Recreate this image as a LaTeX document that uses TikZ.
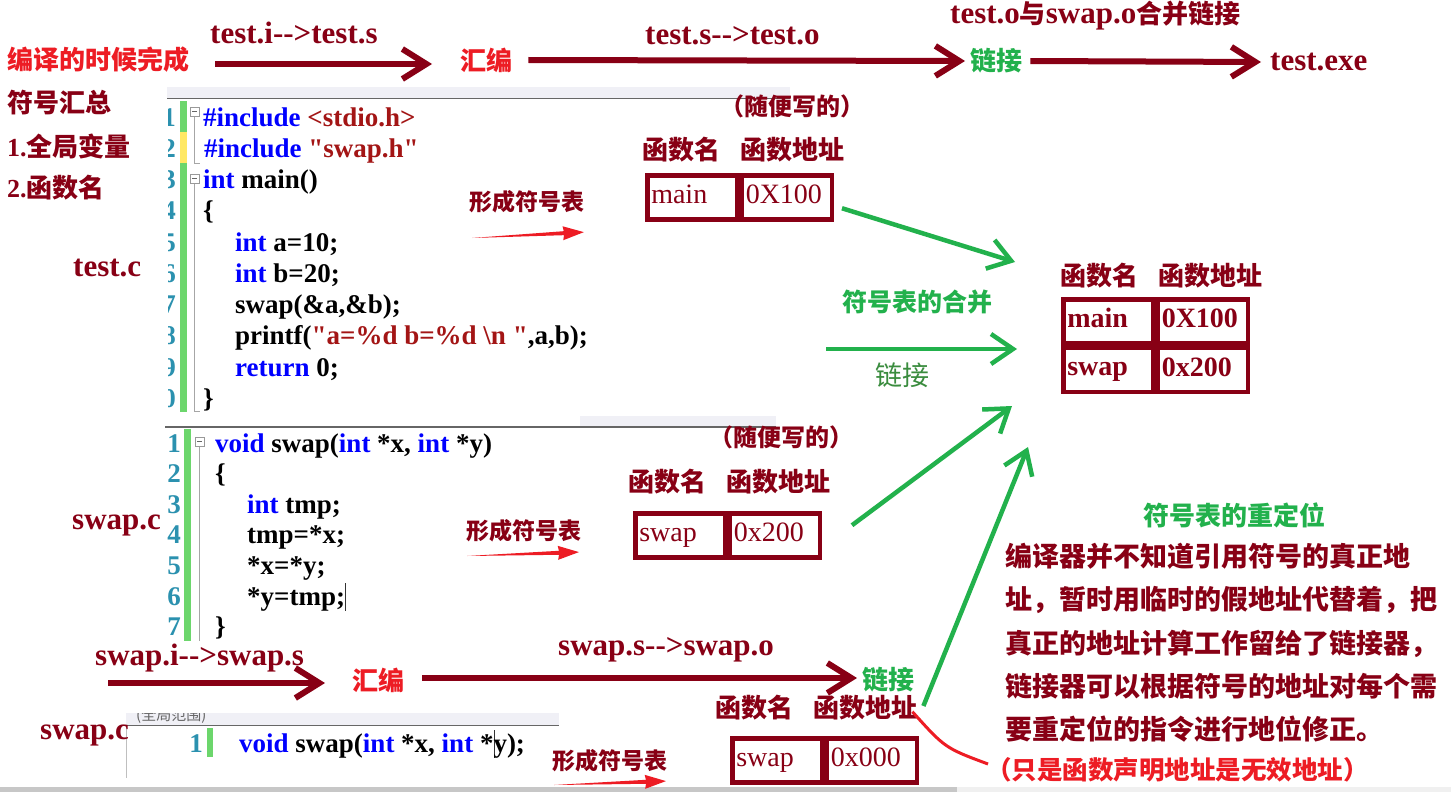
\documentclass[tikz,border=0pt]{standalone}
\usepackage{fontspec}
\setmainfont{Liberation Serif}
\newfontfamily\cjk{Noto Sans CJK SC}
\usepackage{xcolor}
\usepackage{tikz}
\usetikzlibrary{positioning, arrows.meta}

\definecolor{darkred}{RGB}{136,0,21}
\definecolor{markred}{RGB}{237,28,36}
\definecolor{markgreen}{RGB}{34,177,76}
\definecolor{softgreen}{RGB}{58,140,62}
\definecolor{kw}{RGB}{0,0,255}
\definecolor{str}{RGB}{163,21,21}
\definecolor{lineno}{RGB}{43,145,175}
\definecolor{chgbar}{RGB}{108,214,108}
\definecolor{chgyel}{RGB}{255,232,100}
\definecolor{barbg}{RGB}{240,240,246}

\newcommand\edcaret{\rlap{\color{black!80}\rule[-0.22em]{0.9pt}{1.05em}}}

\tikzset{
    formarrow/.pic={\fill[markred] (0,0) -- (92,-2) -- (91,-7) -- (112,0) -- (91,7) -- (92,2) -- cycle;}
}

\begin{document}
\begin{tikzpicture}[
    x=1pt, y=-1pt,
    every node/.style={inner sep=0pt, anchor=west},
    lbl/.style={font=\bfseries\fontsize{31}{31}\selectfont, text=darkred},
    zh/.style={font=\cjk\bfseries\fontsize{26}{26}\selectfont, text=darkred},
    code/.style={font=\bfseries\fontsize{27}{27}\selectfont, anchor=base west},
    lnum/.style={font=\bfseries\fontsize{27}{27}\selectfont, text=lineno, anchor=base east},
    cell/.style={draw=darkred, line width=4.5pt, minimum width=90pt, minimum height=44pt, inner xsep=4pt, text width=82pt, align=left, execute at begin node={\vphantom{Xp}}, font=\fontsize{28}{28}\selectfont, text=darkred},
    fold/.style={draw=black!40, fill=white, line width=0.8pt},
    guide/.style={draw=black!35, line width=0.8pt},
    flow/.style={draw=darkred, line width=6pt, -{Straight Barb[length=24pt, width=30pt]}},
    merge/.style={draw=markgreen, line width=4.5pt, -{Straight Barb[length=22pt, width=30pt]}}
]
\fill[white] (0,0) rectangle (1451,792);
\useasboundingbox (0,0) rectangle (1451,792);

% editor test.c
\fill[barbg] (167,87) rectangle (790,98);
\draw[line width=1.5pt, black!60] (167,98.5) -- (790,98.5);
\fill[chgbar] (180,101) rectangle (187,412);
\fill[chgyel] (180,132) rectangle (187,163);
\draw[fold] (190,107) rectangle (199,116);
\draw[black!60] (192,111.5) -- (197,111.5);
\draw[guide] (194.5,117) -- (194.5,163) -- (200,163);
\draw[fold] (190,174) rectangle (199,183);
\draw[black!60] (192,178.5) -- (197,178.5);
\draw[guide] (194.5,184) -- (194.5,411) -- (200,411);
\begin{scope}
    \clip (168,100) rectangle (177,414);
    \foreach \i in {1,...,10}
        \node[lnum] (na\i) at (176,{126+31.25*(\i-1)}) {\i};
\end{scope}
\node[code] (ca1) at (203,126) {\textcolor{kw}{\#include} \textcolor{str}{<stdio.h>}};
\node[code] (ca2) at (204,157.25) {\textcolor{kw}{\#include} \textcolor{str}{\textquotedbl swap.h\textquotedbl}};
\node[code] (ca3) at (203,188.5) {\textcolor{kw}{int} main()};
\node[code] (ca4) at (203,219.75) {\{};
\node[code] (ca5) at (235,251) {\textcolor{kw}{int} a=10;};
\node[code] (ca6) at (235,282.25) {\textcolor{kw}{int} b=20;};
\node[code] (ca7) at (235,313.5) {swap(\&a,\&b);};
\node[code] (ca8) at (235,344.75) {printf(\textcolor{str}{\textquotedbl a=\%d b=\%d \textbackslash n \textquotedbl},a,b);};
\node[code] (ca9) at (235,376) {\textcolor{kw}{return} 0;};
\node[code] (ca10) at (203,407.25) {\}};

% editor swap.c
\fill[barbg] (580,416) rectangle (776,426);
\draw[line width=1.5pt, black!60] (165,427) -- (776,427);
\fill[chgbar] (184,429) rectangle (191,641);
\draw[fold] (195,437) rectangle (204,446);
\draw[black!60] (197,441.5) -- (202,441.5);
\draw[guide] (199.5,447) -- (199.5,641);
\foreach \i in {1,...,7}
    \node[lnum] (nb\i) at (181,{452+30.6*(\i-1)}) {\i};
\node[code] (cb1) at (215,452) {\textcolor{kw}{void} swap(\textcolor{kw}{int} *x, \textcolor{kw}{int} *y)};
\node[code] (cb2) at (215,482.6) {\{};
\node[code] (cb3) at (247,513.2) {\textcolor{kw}{int} tmp;};
\node[code] (cb4) at (247,543.8) {tmp=*x;};
\node[code] (cb5) at (247,574.4) {*x=*y;};
\node[code] (cb6) at (247,605) {*y=tmp;\edcaret};
\node[code] (cb7) at (215,635.6) {\}};

% editor swap.h
\fill[barbg] (126,713) rectangle (559,725);
\begin{scope}
    \clip (126,713) rectangle (559,725);
    \node[font=\cjk\fontsize{15}{15}\selectfont, text=black!60] (scope) at (136,716) {(全局范围)};
\end{scope}
\draw[line width=1.5pt, black!60] (126,725.5) -- (559,725.5);
\draw[black!25, line width=1pt] (126,726) -- (126,778);
\fill[chgbar] (207,728) rectangle (213,757);
\node[lnum] (nc1) at (203,752) {1};
\node[code] (cc1) at (239,752) {\textcolor{kw}{void} swap(\textcolor{kw}{int} *x, \textcolor{kw}{int} *\edcaret y);};
\fill[black!22] (0,787) rectangle (957,792);
\fill[black!6] (957,787) rectangle (1451,792);

% top: test.c
\node[zh, text=markred] (compile) at (7,60) {编译的时候完成};
\node[lbl] (ti) at (210,33) {test.i{-}{-}>test.s};
\node[zh, text=markred] (asm1) at (460,60) {汇编};
\node[lbl] (ts) at (645,36) {test.s{-}{-}>test.o};
\node[lbl] (to) at (950,16) {test.o{\cjk\fontsize{26}{26}\selectfont 与}swap.o{\cjk\fontsize{26}{26}\selectfont 合并链接}};
\node[zh, text=markgreen] (link1) at (970,61) {链接};
\node[lbl] (exe) at (1270,62) {test.exe};
\draw[flow] ([shift={(26,4)}]compile.east) -- ([shift={(-28,4)}]asm1.west);
\draw[flow] ([shift={(16,0)}]asm1.east) -- ([shift={(-5,0)}]link1.west);
\draw[flow] ([shift={(8,0)}]link1.east) -- ([shift={(-9,0)}]exe.west);

\node[zh] (sum) at (7,103) {符号汇总};
\node[zh] (sym1) at (7,146) {{\rmfamily 1.}全局变量};
\node[zh] (sym2) at (7,188) {{\rmfamily 2.}函数名};
\node[lbl] (testc) at (73,268) {test.c};
\node[lbl] (swapc) at (72,525) {swap.c};
\node[lbl] (swaph) at (40,735) {swap.c};

% symbol tables
\node[zh, font=\cjk\bfseries\fontsize{24}{24}\selectfont] (any1) at (720,106) {（随便写的）};
\node[zh] (hdr1) at (642,150) {函数名\hspace{20pt}函数地址};
\node[cell, anchor=north west] (m1) at (645,173) {main};
\node[cell, right=0pt of m1] (a1) {0X100};
\node[zh, font=\cjk\bfseries\fontsize{23}{23}\selectfont] (form1) at (469,202) {形成符号表};
\pic[rotate=3] at (472,238) {formarrow};

\node[zh, font=\cjk\bfseries\fontsize{24}{24}\selectfont] (any2) at (709,437) {（随便写的）};
\node[zh] (hdr2) at (628,482) {函数名\hspace{20pt}函数地址};
\node[cell, anchor=north west] (m2) at (633,511) {swap};
\node[cell, right=0pt of m2] (a2) {0x200};
\node[zh, font=\cjk\bfseries\fontsize{23}{23}\selectfont] (form2) at (466,531) {形成符号表};
\pic[rotate=2] at (467,556) {formarrow};

\node[zh] (hdr3) at (715,708) {函数名\hspace{20pt}函数地址};
\node[cell, anchor=north west] (m3) at (730,736) {swap};
\node[cell, right=0pt of m3] (a3) {0x000};
\node[zh, font=\cjk\bfseries\fontsize{23}{23}\selectfont] (form3) at (552,761) {形成符号表};
\pic[rotate=2] at (554,785) {formarrow};

% merged table
\node[zh] (hdrm) at (1060,276) {函数名\hspace{20pt}函数地址};
\node[cell, anchor=north west, font=\bfseries\fontsize{28}{28}\selectfont] (mm) at (1061,297) {main};
\node[cell, right=0pt of mm, font=\bfseries\fontsize{28}{28}\selectfont] (am) {0X100};
\node[cell, below=0pt of mm, font=\bfseries\fontsize{28}{28}\selectfont] (ms) {swap};
\node[cell, right=0pt of ms, font=\bfseries\fontsize{28}{28}\selectfont] (as) {0x200};

% merging
\coordinate (g0) at (826,349);
\coordinate (g1) at (1017,349);
\node[zh, text=markgreen, font=\cjk\bfseries\fontsize{25}{25}\selectfont] (mergelbl) at (842,302) {符号表的合并};
\node[font=\cjk\fontsize{27}{27}\selectfont, text=softgreen] (linklbl) at (875,375) {链接};
\draw[merge] ([shift={(8,11)}]a1.east) -- ([shift={(-46,-35)}]mm.north west);
\draw[merge] (g0) -- (g1);
\draw[merge] ([shift={(30,-10)}]a2.east) -- ([shift={(-49,12)}]ms.south west);
\draw[merge] ([shift={(6,-2)}]hdr3.east) -- ([shift={(-33,53)}]ms.south west);

% swap.c flow
\coordinate (s0) at (108,683);
\node[lbl] (si) at (95,658) {swap.i{-}{-}>swap.s};
\node[zh, text=markred] (asm2) at (352,680) {汇编};
\node[lbl] (ss) at (558,650) {swap.s{-}{-}>swap.o};
\node[zh, text=markgreen] (link2) at (862,680) {链接};
\draw[flow] (s0) -- ([shift={(-27,3)}]asm2.west);
\draw[flow] ([shift={(18,-2)}]asm2.east) -- ([shift={(-5,-2)}]link2.west);

% relocation note
\node[zh, text=markgreen] (reloc) at (1143,515) {符号表的重定位};
\node[zh, font=\cjk\bfseries\fontsize{27}{43.3}\selectfont, align=left, anchor=north west] (note) at (1005,543)
    {编译器并不知道引用符号的真正地\\址，暂时用临时的假地址代替着，把\\真正的地址计算工作留给了链接器，\\链接器可以根据符号的地址对每个需\\要重定位的指令进行地位修正。};
\node[zh, text=markred, font=\cjk\bfseries\fontsize{25.5}{25.5}\selectfont] (invalid) at (986,770) {（只是函数声明地址是无效地址）};
\draw[markred, line width=3pt] ([shift={(-5,-9)}]hdr3.south east) .. controls (945,748) .. ([shift={(2,-6)}]invalid.west);
\end{tikzpicture}
\end{document}
